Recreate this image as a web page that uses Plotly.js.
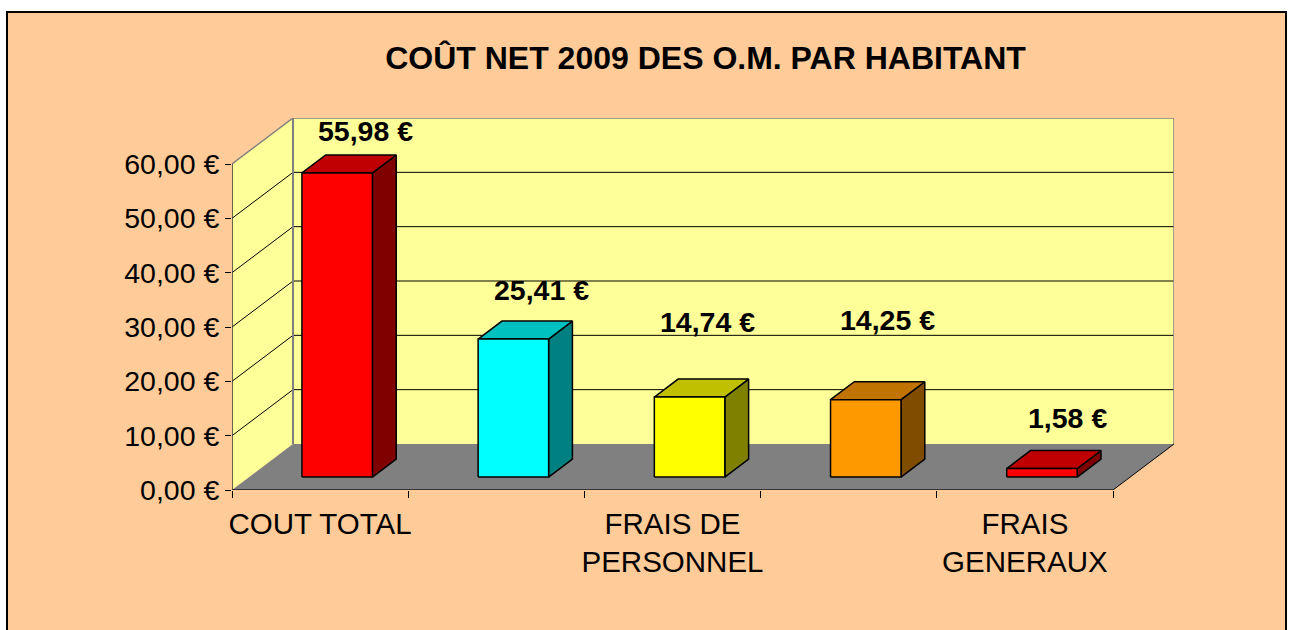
<!DOCTYPE html>
<html>
<head>
<meta charset="utf-8">
<script src="https://cdn.plot.ly/plotly-3.0.1.min.js"></script>
<style>
  html, body { margin: 0; padding: 0; background: #ffffff; }
  #chart { width: 1292px; height: 630px; }
</style>
</head>
<body>
<div id="chart"></div>
<script>
// ---- data ----
const categories = ["COUT TOTAL", "COLLECTE", "FRAIS DE PERSONNEL", "TRAITEMENT", "FRAIS GENERAUX"];
const tickLabels = ["COUT TOTAL", "", "FRAIS DE<br>PERSONNEL", "", "FRAIS<br>GENERAUX"];
const values = [55.98, 25.41, 14.74, 14.25, 1.58];
const yTickVals = [0, 10, 20, 30, 40, 50, 60];
const yTickText = ["0,00 €", "10,00 €", "20,00 €", "30,00 €", "40,00 €", "50,00 €", "60,00 €"];
const titleText = "COÛT NET 2009 DES O.M. PAR HABITANT";

// ---- styles ----
const frontColors = ["#FF0000", "#00FFFF", "#FFFF00", "#FF9900", "#FF0000"];
const topColors   = ["#C00000", "#00C0C0", "#C0C000", "#C07300", "#C00000"];
const sideColors  = ["#800000", "#008080", "#808000", "#804C00", "#800000"];
const labelShiftX = [5, 4, -6, -2, 2];
const labelShiftY = [24, 31, 57, 62, 33];

// ---- geometry of the 3D projection (in axis units) ----
const YMAX = 60;
const N = categories.length;
const DX = 61 / 176.2;    // depth offset along x (category units)
const DY = 46 / 5.4333;   // depth offset along y (value units)
const BAR_W = 0.4;
const F0 = 0.28, F1 = 0.67; // bar front/back depth fractions

const FONT = "Liberation Sans, Arial, sans-serif";
const traces = [];

function poly(xs, ys, fill, lineColor, lineWidth) {
  traces.push({
    type: "scatter", mode: lineColor ? "lines" : "none",
    x: xs.concat([xs[0]]), y: ys.concat([ys[0]]),
    fill: "toself", fillcolor: fill,
    line: { color: lineColor || fill, width: lineWidth || 0 },
    hoverinfo: "skip", showlegend: false, cliponaxis: false
  });
}
function seg(xs, ys, color, width) {
  traces.push({
    type: "scatter", mode: "lines", x: xs, y: ys,
    line: { color: color, width: width },
    hoverinfo: "skip", showlegend: false, cliponaxis: false
  });
}

// walls and floor
poly([0, 0, DX, DX], [0, YMAX, YMAX + DY, DY], "#FFFF99");
poly([DX, DX, N + DX, N + DX], [DY, YMAX + DY, YMAX + DY, DY], "#FFFF99");
poly([0, N, N + DX, DX], [0, 0, DY, DY], "#808080");

// gridlines (left wall diagonal + back wall horizontal)
yTickVals.forEach(v => {
  if (v === 0 || v === YMAX) return;
  seg([0, DX, N + DX], [v, v + DY, v + DY], "#000000", 1);
});

// wall edges
seg([0, DX, N + DX, N + DX], [YMAX, YMAX + DY, YMAX + DY, DY], "#808080", 1.5);
seg([DX, DX], [DY, YMAX + DY], "#808080", 2);
seg([N, N + DX], [0, DY], "#000000", 1);
seg([0, N], [0, 0], "#333333", 2);
seg([0, 0], [0, YMAX], "#333333", 1.5);

// bars
const ddx = (F1 - F0) * DX, ddy = (F1 - F0) * DY;
values.forEach((v, i) => {
  const cx = i + 0.5;
  const xl = cx - BAR_W / 2 + F0 * DX, xr = cx + BAR_W / 2 + F0 * DX;
  const yb = F0 * DY, yt = v + F0 * DY;
  poly([xr, xr + ddx, xr + ddx, xr], [yb, yb + ddy, yt + ddy, yt], sideColors[i], "#000000", 1.5);
  poly([xl, xr, xr + ddx, xl + ddx], [yt, yt, yt + ddy, yt + ddy], topColors[i], "#000000", 1.5);
  poly([xl, xr, xr, xl], [yb, yb, yt, yt], frontColors[i], "#000000", 1.5);
});

// data labels
const annotations = values.map((v, i) => ({
  x: i + 0.5 + F1 * DX, y: v + F1 * DY, xref: "x", yref: "y",
  text: "<b>" + v.toFixed(2).replace(".", ",") + " €</b>",
  showarrow: false, xanchor: "center", yanchor: "middle",
  xshift: labelShiftX[i], yshift: labelShiftY[i],
  font: { family: FONT, size: 28.5, color: "#000000" }
}));

const L = 232, R = 1292 - 1174, T = 118, B = 140;
const PW = 1292 - L - R, PH = 630 - T - B;
const px = p => (p - L) / PW;
const py = p => (630 - B - p) / PH;

const layout = {
  width: 1292, height: 630,
  margin: { l: L, r: R, t: T, b: B, pad: 0 },
  paper_bgcolor: "#FFFFFF", plot_bgcolor: "rgba(0,0,0,0)",
  showlegend: false,
  title: {
    text: "<b>" + titleText + "</b>",
    x: 705.5 / 1292, xanchor: "center", xref: "container",
    y: 1 - 58 / 630, yanchor: "middle", yref: "container",
    font: { family: FONT, size: 32, color: "#000000" }
  },
  xaxis: {
    range: [0, N + DX], fixedrange: true, automargin: false,
    showgrid: false, zeroline: false, showline: false,
    tickmode: "array", tickvals: categories.map((c, i) => i + 0.5), ticktext: tickLabels,
    ticks: "", ticklabelstandoff: 13,
    tickfont: { family: FONT, size: 29.5, color: "#000000" },
    minor: { tickmode: "array", tickvals: [0, 1, 2, 3, 4, 5], ticks: "outside", ticklen: 7, tickwidth: 1, tickcolor: "#000000", showgrid: false }
  },
  yaxis: {
    range: [0, YMAX + DY], fixedrange: true, automargin: false,
    showgrid: false, zeroline: false, showline: false,
    tickmode: "array", tickvals: yTickVals, ticktext: yTickText,
    ticks: "outside", ticklen: 6, tickwidth: 1, tickcolor: "#000000",
    ticklabelstandoff: 0,
    tickfont: { family: FONT, size: 28.5, color: "#000000" }
  },
  shapes: [{
    type: "rect", xref: "paper", yref: "paper", layer: "below",
    x0: px(7), x1: px(1286), y0: py(645), y1: py(12),
    fillcolor: "#FFCC99", line: { color: "#000000", width: 2 }
  }],
  annotations: annotations
};

Plotly.newPlot("chart", traces, layout, { displayModeBar: false, staticPlot: true });
</script>
</body>
</html>
